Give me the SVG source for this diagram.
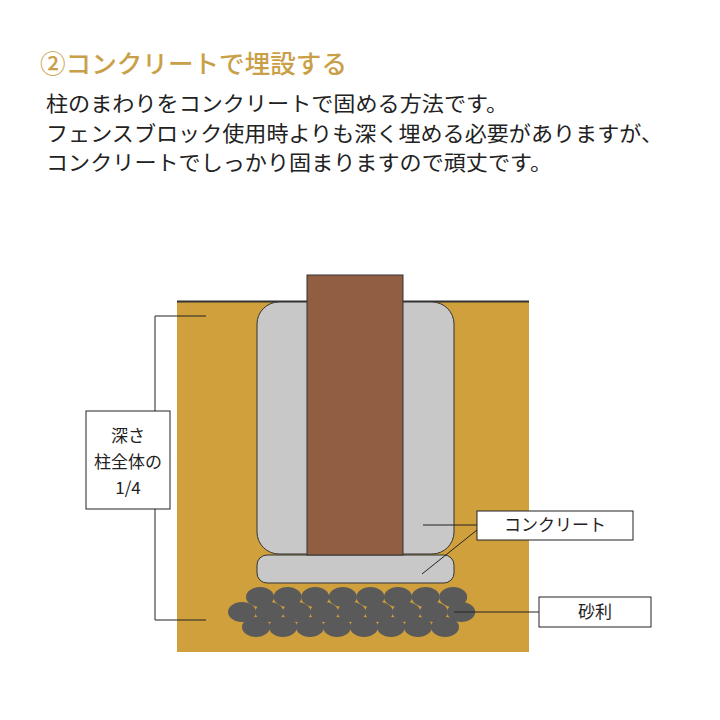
<svg xmlns="http://www.w3.org/2000/svg" width="720" height="720" viewBox="0 0 720 720">
<style>
.t{font-family:"Noto Sans CJK JP","Noto Sans",sans-serif;}
.body{font-size:21px;fill:#222;}
.lbl{font-size:17px;fill:#222;}
.ln{stroke:#222;stroke-width:1;fill:none;}
.box{fill:#fff;stroke:#222;stroke-width:1;}
.st{fill:#5a5a5a;}
</style>
<rect width="720" height="720" fill="#fff"/>
<text class="t" x="40" y="73" font-size="25" font-weight="500" fill="#c9a048" textLength="307" lengthAdjust="spacingAndGlyphs">②コンクリートで埋設する</text>
<text class="t body" x="46" y="111" textLength="462" lengthAdjust="spacingAndGlyphs">柱のまわりをコンクリートで固める方法です。</text>
<text class="t body" x="46" y="141" textLength="617" lengthAdjust="spacingAndGlyphs">フェンスブロック使用時よりも深く埋める必要がありますが、</text>
<text class="t body" x="46" y="170" textLength="506" lengthAdjust="spacingAndGlyphs">コンクリートでしっかり固まりますので頑丈です。</text>
<g id="ground">
<rect x="177" y="301" width="352" height="351" fill="#cfa03c"/>
<line x1="177" y1="301.5" x2="529" y2="301.5" stroke="#333" stroke-width="2"/>
</g>
<g id="concrete">
<rect x="257" y="302" width="197" height="252" rx="22" fill="#c8c8c8" stroke="#333" stroke-width="1"/>
<rect x="257" y="555" width="197" height="28" rx="10" fill="#c8c8c8" stroke="#333" stroke-width="1"/>
</g>
<g id="post">
<rect x="307" y="275" width="96" height="280" fill="#915e42" stroke="#333" stroke-width="1"/>
</g>
<g id="gravel">
<g class="st">
<ellipse cx="260" cy="597" rx="14" ry="10"/><ellipse cx="287.6" cy="597" rx="14" ry="10"/><ellipse cx="315.2" cy="597" rx="14" ry="10"/><ellipse cx="342.8" cy="597" rx="14" ry="10"/><ellipse cx="370.4" cy="597" rx="14" ry="10"/><ellipse cx="398" cy="597" rx="14" ry="10"/><ellipse cx="425.6" cy="597" rx="14" ry="10"/><ellipse cx="453.2" cy="597" rx="14" ry="10"/>
<ellipse cx="242" cy="612" rx="14" ry="10"/><ellipse cx="269.4" cy="612" rx="14" ry="10"/><ellipse cx="296.8" cy="612" rx="14" ry="10"/><ellipse cx="324.2" cy="612" rx="14" ry="10"/><ellipse cx="351.6" cy="612" rx="14" ry="10"/><ellipse cx="379" cy="612" rx="14" ry="10"/><ellipse cx="406.4" cy="612" rx="14" ry="10"/><ellipse cx="433.8" cy="612" rx="14" ry="10"/><ellipse cx="461.2" cy="612" rx="14" ry="10"/>
<ellipse cx="256" cy="627" rx="14" ry="10"/><ellipse cx="283" cy="627" rx="14" ry="10"/><ellipse cx="310" cy="627" rx="14" ry="10"/><ellipse cx="337" cy="627" rx="14" ry="10"/><ellipse cx="364" cy="627" rx="14" ry="10"/><ellipse cx="391" cy="627" rx="14" ry="10"/><ellipse cx="418" cy="627" rx="14" ry="10"/><ellipse cx="445" cy="627" rx="14" ry="10"/>
</g>
</g>
<g id="connectors">
<path class="ln" d="M206 316H155V620H206"/>
<line class="ln" x1="423" y1="525" x2="477" y2="525"/>
<line class="ln" x1="422" y1="574" x2="477" y2="530"/>
<line class="ln" x1="454" y1="612" x2="539" y2="612"/>
</g>
<g id="depth-label">
<rect class="box" x="86" y="411" width="84" height="98"/>
<text class="t lbl" x="128" y="442" text-anchor="middle">深さ</text>
<text class="t lbl" x="128" y="468" text-anchor="middle">柱全体の</text>
<text class="t lbl" x="128" y="494" text-anchor="middle">1/4</text>
</g>
<g id="concrete-label">
<rect class="box" x="477" y="511" width="156" height="29"/>
<text class="t lbl" x="555" y="531" text-anchor="middle">コンクリート</text>
</g>
<g id="gravel-label">
<rect class="box" x="539" y="597" width="112" height="30"/>
<text class="t lbl" x="595" y="618" text-anchor="middle">砂利</text>
</g>
</svg>
